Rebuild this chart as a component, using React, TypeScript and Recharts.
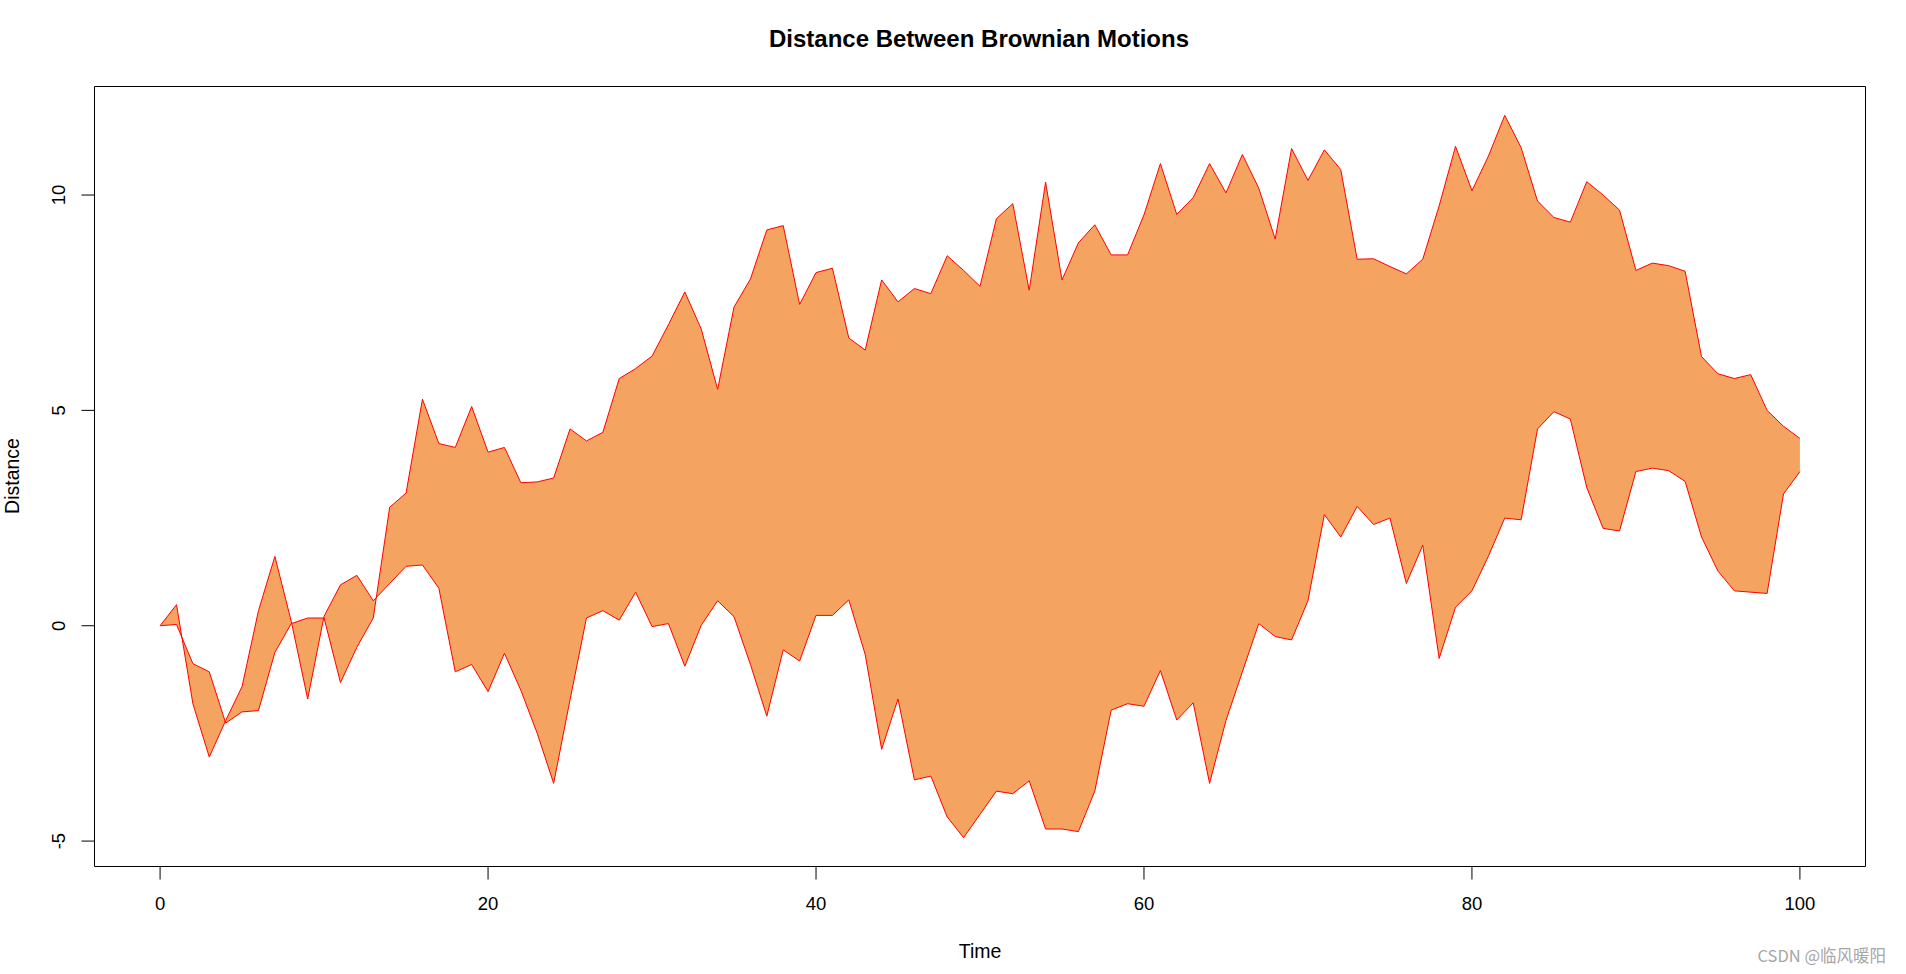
import React from 'react'
import {
  ComposedChart, Area, Line, XAxis, YAxis, ReferenceArea,
} from 'recharts'

const W = 1906
const H = 974
const FONT = 'Liberation Sans, Arial, sans-serif'

// time steps 0..100
const TIME = Array.from({ length: 101 }, (_, i) => i)

// first Brownian path (ends on top)
const PATH_A = [
  0, 0.03, -0.88, -1.07, -2.26, -2.0, -1.97, -0.62, 0.05, 0.18,
  0.18, -1.32, -0.5, 0.18, 2.75, 3.08, 5.26, 4.23, 4.14, 5.09,
  4.03, 4.14, 3.32, 3.34, 3.43, 4.57, 4.29, 4.49, 5.74, 5.97,
  6.26, 6.99, 7.75, 6.89, 5.49, 7.4, 8.05, 9.19, 9.29, 7.46,
  8.2, 8.3, 6.68, 6.4, 8.03, 7.52, 7.83, 7.71, 8.59, 8.25,
  7.88, 9.45, 9.8, 7.79, 10.3, 8.03, 8.89, 9.31, 8.61, 8.61,
  9.54, 10.73, 9.55, 9.94, 10.73, 10.05, 10.94, 10.16, 8.98, 11.08,
  10.34, 11.05, 10.59, 8.51, 8.52, 8.34, 8.17, 8.51, 9.75, 11.13,
  10.1, 10.9, 11.85, 11.1, 9.86, 9.48, 9.37, 10.31, 10.0, 9.65,
  8.25, 8.42, 8.36, 8.23, 6.25, 5.85, 5.74, 5.83, 5.0, 4.63,
  4.35,
]

// second Brownian path
const PATH_B = [
  0, 0.49, -1.81, -3.05, -2.2, -1.41, 0.35, 1.61, 0.1, -1.7,
  0.22, 0.95, 1.17, 0.58, 0.98, 1.38, 1.41, 0.87, -1.07, -0.9,
  -1.53, -0.64, -1.5, -2.5, -3.66, -1.72, 0.18, 0.35, 0.13, 0.78,
  -0.02, 0.05, -0.94, 0.01, 0.58, 0.21, -0.9, -2.1, -0.56, -0.82,
  0.24, 0.24, 0.6, -0.67, -2.87, -1.7, -3.58, -3.49, -4.44, -4.92,
  -4.38, -3.84, -3.9, -3.6, -4.72, -4.72, -4.78, -3.84, -1.96, -1.81,
  -1.87, -1.04, -2.19, -1.79, -3.66, -2.2, -1.07, 0.05, -0.25, -0.33,
  0.58, 2.58, 2.06, 2.77, 2.35, 2.5, 0.98, 1.87, -0.76, 0.43,
  0.81, 1.61, 2.5, 2.46, 4.57, 4.97, 4.8, 3.21, 2.26, 2.2,
  3.58, 3.66, 3.6, 3.35, 2.06, 1.27, 0.81, 0.78, 0.75, 3.06,
  3.58,
]

const X_TICKS = [0, 20, 40, 60, 80, 100]
const Y_TICKS = [-5, 0, 5, 10]
const X_DOMAIN: [number, number] = [-4, 104]
const Y_DOMAIN: [number, number] = [-5.59, 12.52]

const data = TIME.map((t, i) => ({
  t,
  a: PATH_A[i],
  b: PATH_B[i],
  band: [PATH_B[i], PATH_A[i]],
}))

function XTick({ x, y, payload }: any) {
  return (
    <text x={x} y={y + 30.5} textAnchor="middle" fontSize={18.5} fontFamily={FONT} fill="#000">
      {payload.value}
    </text>
  )
}

function YTick({ x, y, payload }: any) {
  const bx = x - 16.5
  return (
    <text
      x={bx} y={y} textAnchor="middle" fontSize={18.5} fontFamily={FONT} fill="#000"
      transform={`rotate(-90, ${bx}, ${y})`}
    >
      {payload.value}
    </text>
  )
}

export default function App() {
  return (
    <div style={{ position: 'absolute', left: 0, top: 0, width: W, height: H, background: '#fff' }}>
      <ComposedChart
        width={W} height={H} data={data}
        margin={{ top: 86.5, right: 40.5, left: 0, bottom: 0 }}
      >
        <XAxis
          dataKey="t" type="number" domain={X_DOMAIN} ticks={X_TICKS} allowDataOverflow
          height={107.5} axisLine={false} tickSize={13} tickMargin={0}
          tickLine={{ stroke: '#000' }} tick={<XTick />} interval={0}
        />
        <YAxis
          type="number" domain={Y_DOMAIN} ticks={Y_TICKS} allowDataOverflow
          width={94.5} axisLine={false} tickSize={13} tickMargin={0}
          tickLine={{ stroke: '#000' }} tick={<YTick />} interval={0}
        />
        <Area
          dataKey="band" type="linear" fill="#F4A460" fillOpacity={1} stroke="none"
          isAnimationActive={false} activeDot={false} dot={false}
        />
        <Line dataKey="a" type="linear" stroke="#ff0000" strokeWidth={1} dot={false} activeDot={false} isAnimationActive={false} />
        <Line dataKey="b" type="linear" stroke="#ff0000" strokeWidth={1} dot={false} activeDot={false} isAnimationActive={false} />
        <ReferenceArea
          x1={X_DOMAIN[0]} x2={X_DOMAIN[1]} y1={Y_DOMAIN[0]} y2={Y_DOMAIN[1]}
          fill="none" fillOpacity={0} stroke="#000" strokeWidth={1}
        />
      </ComposedChart>
      <svg width={W} height={H} style={{ position: 'absolute', left: 0, top: 0, pointerEvents: 'none' }}>
        <text x={979} y={47} textAnchor="middle" fontSize={24} fontWeight="bold" fontFamily={FONT} fill="#000">
          Distance Between Brownian Motions
        </text>
        <text x={980} y={958} textAnchor="middle" fontSize={19.5} fontFamily={FONT} fill="#000">
          Time
        </text>
        <text
          x={18.5} y={476} textAnchor="middle" fontSize={19.5} fontFamily={FONT} fill="#000"
          transform="rotate(-90, 18.5, 476)"
        >
          Distance
        </text>
        <text x={1886} y={962} textAnchor="end" fontSize={16.5} fontFamily="Noto Sans CJK SC, sans-serif" fill="#a6a6a6">
          CSDN @临风暖阳
        </text>
      </svg>
    </div>
  )
}
